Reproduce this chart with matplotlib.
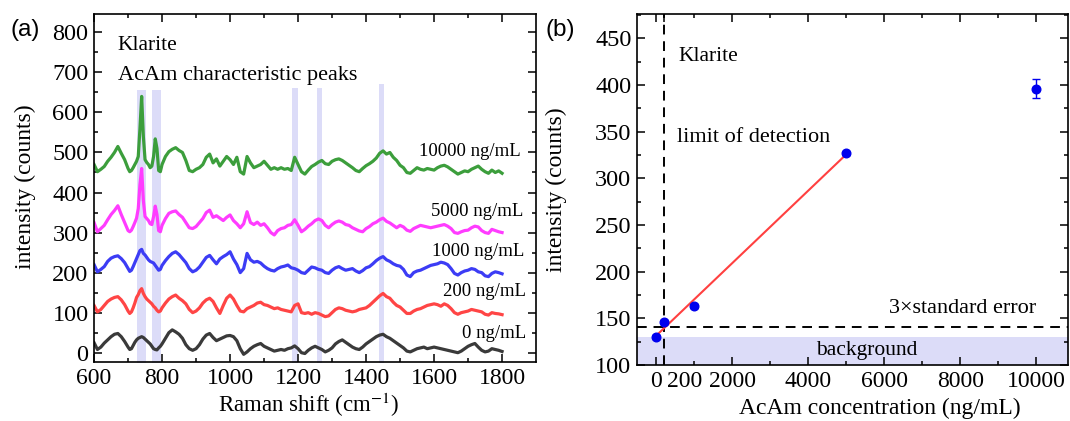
import numpy as np
import matplotlib
matplotlib.use("Agg")
import matplotlib.pyplot as plt
from matplotlib.ticker import MultipleLocator, FixedLocator
from matplotlib.transforms import ScaledTranslation

plt.rcParams['font.family'] = ['Liberation Serif', 'DejaVu Serif']
plt.rcParams['mathtext.fontset'] = 'stix'

# ---------------- Panel (a) data ----------------
raman_shift = np.concatenate([np.arange(600, 701, 10), np.arange(705, 801, 5), np.arange(810, 1801, 10)])

spec_10000 = [470,452,458,465,478,488,500,515,498,482,460,
              452,455,462,470,478,490,560,640,540,482,475,470,462,466,490,534,510,455,452,470,
              490,502,508,512,505,500,480,455,452,458,
              462,470,488,496,474,484,466,478,490,482,
              470,488,452,446,490,474,462,466,470,478,
              468,458,462,458,462,458,460,455,488,470,
              452,446,456,465,470,476,480,472,470,478,
              482,484,480,474,468,462,455,452,460,467,
              472,478,486,498,504,496,500,488,480,468,
              462,450,448,455,462,458,456,460,458,456,
              462,466,468,464,458,452,446,450,454,452,
              458,462,466,458,452,448,456,450,454,448]
spec_5000 = [325,302,310,318,332,345,355,367,345,325,305,
             302,306,315,325,336,360,420,460,380,340,335,330,322,320,340,366,345,305,302,318,
             335,348,352,354,345,338,325,312,310,315,
             325,335,350,356,338,342,336,330,338,344,
             330,322,312,322,352,325,320,326,318,322,
             312,300,294,305,310,312,318,320,332,318,
             302,308,316,322,330,334,330,318,312,320,
             326,329,326,320,318,312,308,304,302,310,
             315,322,326,332,336,328,324,318,312,318,
             314,306,303,310,314,318,316,314,312,314,
             316,318,320,316,310,300,298,302,305,306,
             312,316,314,305,300,298,308,305,302,300]
spec_1000 = [220,202,208,215,228,236,240,242,235,225,210,
             203,206,215,225,235,245,255,258,248,244,238,232,228,226,224,218,212,206,208,218,
             230,240,248,252,245,235,225,210,202,206,
             214,226,238,243,232,222,234,240,245,252,
             234,220,200,210,248,232,226,228,224,216,
             210,206,204,210,214,216,219,212,210,206,
             200,198,206,214,212,208,206,200,198,206,
             212,215,210,206,208,210,204,200,205,212,
             215,222,230,236,240,232,228,222,218,216,
             208,194,190,200,204,206,210,214,218,220,
             222,226,224,220,210,198,194,200,204,206,
             210,208,202,200,192,190,198,202,200,197]
spec_200 = [118,102,108,118,128,134,138,140,132,120,104,
            98,102,112,124,138,145,155,160,148,140,134,130,126,122,116,112,106,102,104,112,
            124,134,140,144,136,130,122,108,100,104,
            112,124,132,136,128,112,98,118,136,144,
            134,118,104,102,110,114,118,124,126,120,
            118,114,110,112,108,106,104,102,118,122,
            100,98,100,96,100,98,94,90,92,100,
            108,112,110,106,104,102,104,108,110,112,
            118,126,134,142,148,140,136,126,118,114,
            106,98,98,104,108,110,114,118,120,122,
            120,116,122,118,110,100,96,100,102,104,
            108,106,104,102,96,94,100,98,97,95]
spec_0 = [25,8,14,24,32,40,46,48,40,28,14,
          8,10,18,26,32,36,38,40,38,34,30,26,22,16,10,8,7,12,16,22,
          36,50,57,52,46,36,20,10,6,10,
          20,34,44,48,38,30,34,38,42,43,
          40,30,10,-4,2,10,16,20,23,16,
          12,8,4,6,8,6,10,12,17,10,
          0,-2,6,12,16,12,8,2,6,12,
          22,28,32,26,20,14,10,8,14,22,
          28,34,40,44,46,40,36,30,24,18,
          12,4,2,6,10,12,14,10,12,14,
          12,10,8,6,4,2,0,4,10,16,
          20,23,14,6,2,4,10,8,6,3]

spectra = [spec_0, spec_200, spec_1000, spec_5000, spec_10000]
spec_labels = ['0 ng/mL', '200 ng/mL', '1000 ng/mL', '5000 ng/mL', '10000 ng/mL']
spec_colors = ['#3a3a3a', '#ff4545', '#3c3cf5', '#ff3cff', '#3c9e3c']
label_y = [49, 152, 252, 352, 502]
label_x_right = [1870, 1870, 1866, 1862, 1855]

peak_bands = [(727, 754), (771, 796), (1183, 1200), (1256, 1270), (1437, 1454)]
band_tops = [657, 657, 660, 660, 670]

# ---------------- Panel (b) data ----------------
conc = [0, 200, 1000, 5000, 10000]
intensity = [130.3, 145.7, 163.2, 326.7, 396]
intensity_err = [2, 2, 2, 2, 10]
lod_conc = 200
threshold = 141
background_level = 130

fig = plt.figure(figsize=(10.7, 4.21), dpi=100)
axa = fig.add_axes([0.0879, 0.1394, 0.4131, 0.8285])
axb = fig.add_axes([0.5953, 0.1330, 0.4028, 0.8337])

band_color = '#dcdcf8'
for (x0, x1), top in zip(peak_bands, band_tops):
    axa.fill_between([x0, x1], -30, top, color=band_color, lw=0, zorder=0)

for spec, col in zip(spectra, spec_colors):
    axa.plot(raman_shift, spec, color=col, lw=2.3, zorder=2)

for lab, ly, lx in zip(spec_labels, label_y, label_x_right):
    axa.text(lx, ly, lab, fontsize=13.5, ha='right', va='center')

axa.text(670, 768, 'Klarite', fontsize=15.5, ha='left', va='center')
axa.text(670, 693, 'AcAm characteristic peaks', fontsize=16, ha='left', va='center')

axa.set_xlim(600, 1900)
axa.set_ylim(-24, 847)
axa.xaxis.set_major_locator(FixedLocator([600, 800, 1000, 1200, 1400, 1600, 1800]))
axa.xaxis.set_minor_locator(FixedLocator(list(range(700, 1900, 200))))
axa.yaxis.set_major_locator(MultipleLocator(100))
axa.yaxis.set_minor_locator(MultipleLocator(50))
axa.set_xlabel('Raman shift (cm$^{-1}$)', fontsize=16.5)
axa.set_ylabel('intensity (counts)', fontsize=17)
axa.xaxis.set_label_coords(0.485, -0.1626)
axa.yaxis.set_label_coords(-0.156, 0.503)
axa.xaxis.label.set_va('bottom')
axa.yaxis.label.set_va('center')

# panel b
axb.axhspan(100, background_level, color='#dcdcf8', lw=0, zorder=0)
axb.axhline(threshold, color='black', lw=1.4, ls=(0, (5, 3.5)), zorder=1)
axb.axvline(lod_conc, color='black', lw=1.4, ls=(0, (5, 3.5)), zorder=1)
coef = np.polyfit(conc[:4], intensity[:4], 1)
fit_x = np.array([conc[0], conc[3]])
axb.plot(fit_x, np.polyval(coef, fit_x), color='#ff4040', lw=1.5, zorder=2)
axb.errorbar(conc, intensity, yerr=intensity_err, fmt='o', color='#0000ee',
             ms=6.2, capsize=3, elinewidth=1, capthick=1, zorder=3)

axb.text(598, 430, 'Klarite', fontsize=15.5, ha='left', va='center')
axb.text(562, 344, 'limit of detection', fontsize=16, ha='left', va='center')
axb.text(10000, 160, '3×standard error', fontsize=16, ha='right', va='center')
axb.text(5550, 116, 'background', fontsize=15.5, ha='center', va='center')

axb.set_xlim(-500, 10830)
axb.set_ylim(100, 476)
axb.xaxis.set_major_locator(FixedLocator([0, 200, 2000, 4000, 6000, 8000, 10000]))
axb.xaxis.set_minor_locator(FixedLocator([1000, 3000, 5000, 7000, 9000]))
axb.yaxis.set_major_locator(MultipleLocator(50))
axb.yaxis.set_minor_locator(MultipleLocator(25))
axb.set_xlabel('AcAm concentration (ng/mL)', fontsize=17)
axb.set_ylabel('intensity (counts)', fontsize=17)
axb.xaxis.set_label_coords(0.5626, -0.1538)
axb.yaxis.set_label_coords(-0.188, 0.499)
axb.xaxis.label.set_va('bottom')
axb.yaxis.label.set_va('center')

for ax in (axa, axb):
    ax.tick_params(which='both', direction='in', top=True, right=True, width=1.1)
    ax.tick_params(which='major', length=5.5)
    ax.tick_params(which='minor', length=3)
    ax.tick_params(axis='y', pad=4, labelsize=17.5)
    ax.tick_params(axis='x', pad=4, labelsize=17)
    for s in ax.spines.values():
        s.set_linewidth(1.2)

fig.canvas.draw()
offset = ScaledTranslation(0.21, 0, fig.dpi_scale_trans)
lbl = axb.xaxis.get_major_ticks()[1].label1
lbl.set_transform(lbl.get_transform() + offset)

fig.text(25 / 1070, 1 - 30 / 421, '(a)', fontsize=17.5, family=['Liberation Sans', 'DejaVu Sans'], ha='center', va='center')
fig.text(560 / 1070, 1 - 30 / 421, '(b)', fontsize=17.5, family=['Liberation Sans', 'DejaVu Sans'], ha='center', va='center')

fig.savefig('out.png', dpi=100)
